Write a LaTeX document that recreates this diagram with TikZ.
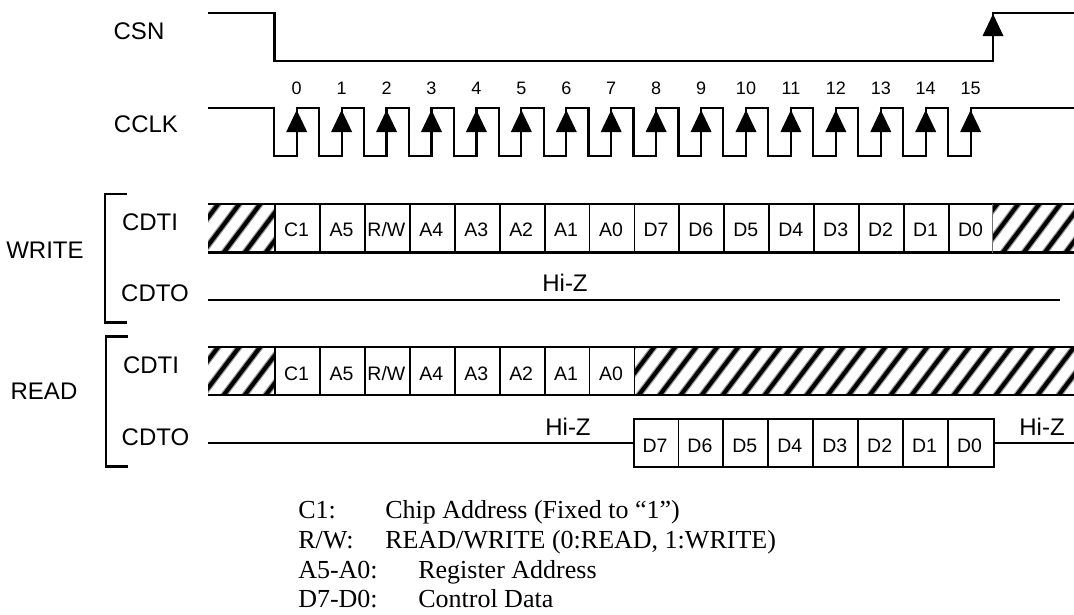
\documentclass[tikz,border=0pt]{standalone}
\usepackage{fontspec}
\setmainfont{Liberation Sans}
\newfontfamily\legendfont{Liberation Serif}
\tikzset{
  sig/.style={line width=1.65pt,line join=miter,line cap=butt},
  wire/.style={line width=1.65pt},
  cellline/.style={line width=1.4pt},
  hatchsoft/.style={line width=4.8pt,black!40},
  hatchline/.style={line width=3pt,black},
  lab/.style={anchor=base,inner sep=0pt,font=\fontsize{18}{20}\selectfont},
  cell/.style={anchor=base,inner sep=0pt,font=\fontsize{14.6}{16}\selectfont},
  num/.style={anchor=base,inner sep=0pt,font=\fontsize{13.5}{15}\selectfont},
  leg/.style={anchor=base west,inner sep=0pt,font=\legendfont\fontsize{19.5}{21}\selectfont},
}
\newcommand{\rw}{R/W}
% x0 y0 x1 y1 and the x where one stripe meets the top edge
\newcommand{\hatchbox}[5]{%
  \begin{scope}
    \clip (#1,#2) rectangle (#3,#4);
    \pgfmathtruncatemacro{\hcount}{int((#3-#1+60)/21)+2}
    \foreach \hk in {0,...,\hcount} {
      \pgfmathsetmacro{\hx}{#5+\hk*21}
      \draw[hatchsoft] (\hx+4,#2-5) -- (\hx-40,#4+5);
      \draw[hatchline] (\hx+4,#2-5) -- (\hx-40,#4+5);
    }
  \end{scope}}
\newcommand{\uparrowhead}[2]{\fill (#1,#2) -- (#1+10.5,#2+22) -- (#1-10.5,#2+22) -- cycle;}
\begin{document}
\begin{tikzpicture}[x=0.75pt,y=-0.75pt]
\useasboundingbox (0,0) rectangle (1074,614);
% labels
\node[lab] (csn) at (139,39) {CSN};
\node[lab] (cclk) at (146,132) {CCLK};
\node[lab] (cdtiw) at (150,230.5) {CDTI};
\node[lab] (cdtow) at (155,301.5) {CDTO};
\node[lab] (write) at (45,258.5) {WRITE};
\node[lab] (read) at (44,399.5) {READ};
\node[lab] (cdtir) at (151,373.5) {CDTI};
\node[lab] (cdtor) at (155.5,445.5) {CDTO};
% CSN
\coordinate (csnA) at (208,13);
\coordinate (csnB) at (993,61);
\draw[sig] (csnA) -- (274.5,13) -- (274.5,61) -- (csnB) -- (993,13) -- (1074,13);
\uparrowhead{993}{14}
% CCLK
\draw[sig] (208,108) -- (274,108) -- (274,156)
  \foreach \i in {0,...,14} {
    -- ({296.7+\i*44.93},156) -- ({296.7+\i*44.93},108) -- ({319+\i*44.93},108) -- ({319+\i*44.93},156)
  } -- ({296.7+15*44.93},156) -- ({296.7+15*44.93},108) -- (1074,108);
\foreach \i in {0,...,15} {
  \pgfmathsetmacro{\ax}{296.7+\i*44.93}
  \uparrowhead{\ax}{110}
  \node[num] (n\i) at (\ax,94) {\i};
}
% WRITE CDTI
\hatchbox{208}{204}{275}{252.5}{197}
\hatchbox{992}{204}{1074}{252.5}{976}
\draw[sig] (208,204) -- (1074,204) (208,252.5) -- (1074,252.5);
\foreach \i/\t in {0/C1,1/A5,2/\rw,3/A4,4/A3,5/A2,6/A1,7/A0,8/D7,9/D6,10/D5,11/D4,12/D3,13/D2,14/D1,15/D0} {
  \pgfmathsetmacro{\cx}{296.5+\i*44.93}
  \node[cell] (w\i) at (\cx,236.5) {\t};
}
\foreach \i in {0,...,15} {
  \pgfmathsetmacro{\cx}{275+\i*44.93}
  \draw[cellline] (\cx,204) -- (\cx,252.5);
}
\draw[line width=0.7pt,black!55] (992,204) -- (992,252.5);
% WRITE CDTO
\draw[wire] (208,300) -- (1060,300);
\node[lab] (hizw) at (565,291) {Hi-Z};
% READ CDTI
\hatchbox{208}{347}{275}{395}{197}
\hatchbox{634}{347}{1074}{395}{633}
\draw[sig] (208,347) -- (1074,347) (208,395) -- (1074,395);
\foreach \i/\t in {0/C1,1/A5,2/\rw,3/A4,4/A3,5/A2,6/A1,7/A0} {
  \pgfmathsetmacro{\cx}{296.5+\i*44.93}
  \node[cell] (r\i) at (\cx,380) {\t};
}
\foreach \i in {0,...,8} {
  \pgfmathsetmacro{\cx}{275+\i*44.93}
  \draw[cellline] (\cx,347) -- (\cx,395);
}
% READ CDTO
\draw[wire] (208,443) -- (634,443);
\draw[wire] (994,443) -- (1074,443);
\node[lab] (hizr) at (568,435) {Hi-Z};
\node[lab] (hizs) at (1042,435) {Hi-Z};
\draw[sig] (634,419) rectangle (994,467);
\foreach \i/\t in {0/D7,1/D6,2/D5,3/D4,4/D3,5/D2,6/D1,7/D0} {
  \pgfmathsetmacro{\cx}{655+\i*44.93}
  \node[cell] (o\i) at (\cx,452) {\t};
}
\foreach \i in {1,...,7} {
  \pgfmathsetmacro{\cx}{633.5+\i*44.93}
  \draw[cellline] (\cx,419) -- (\cx,467);
}
% brackets
\draw[sig] (127,194) -- (105,194) -- (105,322.5) -- (127,322.5);
\draw[sig] (128,336.5) -- (106,336.5) -- (106,466.5) -- (128,466.5);
% legend
\node[leg] (l1) at (298,518) {C1:};
\node[leg] (l1b) at (385,518) {Chip Address (Fixed to “1”)};
\node[leg] (l2) at (298,548) {R/W:};
\node[leg] (l2b) at (385,548) {READ/WRITE (0:READ, 1:WRITE)};
\node[leg] (l3) at (298,578) {A5-A0:};
\node[leg] (l3b) at (418,578) {Register Address};
\node[leg] (l4) at (298,607) {D7-D0:};
\node[leg] (l4b) at (418,607) {Control Data};
\end{tikzpicture}
\end{document}
